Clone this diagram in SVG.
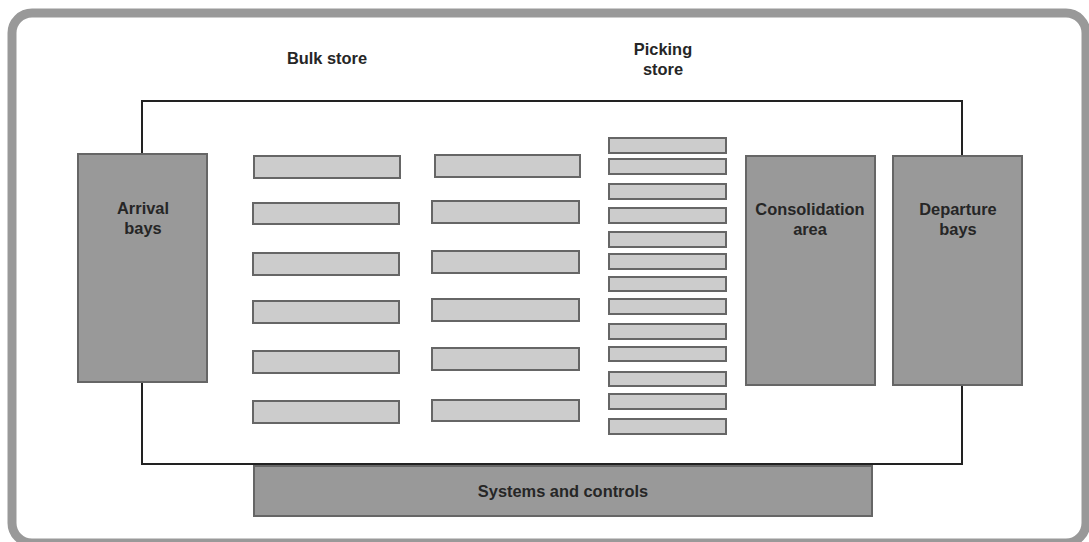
<svg xmlns="http://www.w3.org/2000/svg" width="1089" height="542" viewBox="0 0 1089 542">
  <style>
    .frame { fill: #ffffff; stroke: #999999; stroke-width: 9; }
    .site { fill: none; stroke: #222222; stroke-width: 2; }
    .zone { fill: #999999; stroke: #666666; stroke-width: 2; }
    .rack { fill: #cccccc; stroke: #666666; stroke-width: 2; }
    .label { font-family: "Liberation Sans", Arial, sans-serif; font-size: 16.4px; font-weight: bold; fill: #262626; text-anchor: middle; }
  </style>

  <!-- outer frame (runs off the lower and right edges) -->
  <rect class="frame" x="12" y="13" width="1074" height="530" rx="20" ry="20"/>

  <!-- warehouse boundary -->
  <g id="connectors">
    <rect class="site" x="142" y="101" width="820" height="363"/>
  </g>

  <!-- section headings -->
  <g id="bulk-store-heading">
    <text class="label" x="327" y="64">Bulk store</text>
  </g>
  <g id="picking-store-heading">
    <text class="label" x="663" y="55">Picking</text>
    <text class="label" x="663" y="75">store</text>
  </g>

  <!-- arrival bays -->
  <g id="arrival-bays">
    <rect class="zone" x="78" y="154" width="129" height="228"/>
    <text class="label" x="143" y="214">Arrival</text>
    <text class="label" x="143" y="234">bays</text>
  </g>

  <!-- bulk store racks -->
  <g id="bulk-store">
    <rect class="rack" x="254" y="156" width="146" height="22"/>
    <rect class="rack" x="253" y="203" width="146" height="21"/>
    <rect class="rack" x="253" y="253" width="146" height="22"/>
    <rect class="rack" x="253" y="301" width="146" height="22"/>
    <rect class="rack" x="253" y="351" width="146" height="22"/>
    <rect class="rack" x="253" y="401" width="146" height="22"/>

    <rect class="rack" x="435" y="155" width="145" height="22"/>
    <rect class="rack" x="432" y="201" width="147" height="22"/>
    <rect class="rack" x="432" y="251" width="147" height="22"/>
    <rect class="rack" x="432" y="299" width="147" height="22"/>
    <rect class="rack" x="432" y="348" width="147" height="22"/>
    <rect class="rack" x="432" y="400" width="147" height="21"/>
  </g>

  <!-- picking store racks -->
  <g id="picking-store">
    <rect class="rack" x="609" y="138" width="117" height="15"/>
    <rect class="rack" x="609" y="159" width="117" height="15"/>
    <rect class="rack" x="609" y="184" width="117" height="15"/>
    <rect class="rack" x="609" y="208" width="117" height="15"/>
    <rect class="rack" x="609" y="232" width="117" height="15"/>
    <rect class="rack" x="609" y="254" width="117" height="15"/>
    <rect class="rack" x="609" y="277" width="117" height="14"/>
    <rect class="rack" x="609" y="299" width="117" height="15"/>
    <rect class="rack" x="609" y="324" width="117" height="15"/>
    <rect class="rack" x="609" y="347" width="117" height="14"/>
    <rect class="rack" x="609" y="372" width="117" height="14"/>
    <rect class="rack" x="609" y="394" width="117" height="15"/>
    <rect class="rack" x="609" y="419" width="117" height="15"/>
  </g>

  <!-- consolidation area -->
  <g id="consolidation-area">
    <rect class="zone" x="746" y="156" width="129" height="229"/>
    <text class="label" x="810" y="215">Consolidation</text>
    <text class="label" x="810" y="235">area</text>
  </g>

  <!-- departure bays -->
  <g id="departure-bays">
    <rect class="zone" x="893" y="156" width="129" height="229"/>
    <text class="label" x="958" y="215">Departure</text>
    <text class="label" x="958" y="235">bays</text>
  </g>

  <!-- systems and controls -->
  <g id="systems-and-controls">
    <rect class="zone" x="254" y="466" width="618" height="50"/>
    <text class="label" x="563" y="497">Systems and controls</text>
  </g>
</svg>
